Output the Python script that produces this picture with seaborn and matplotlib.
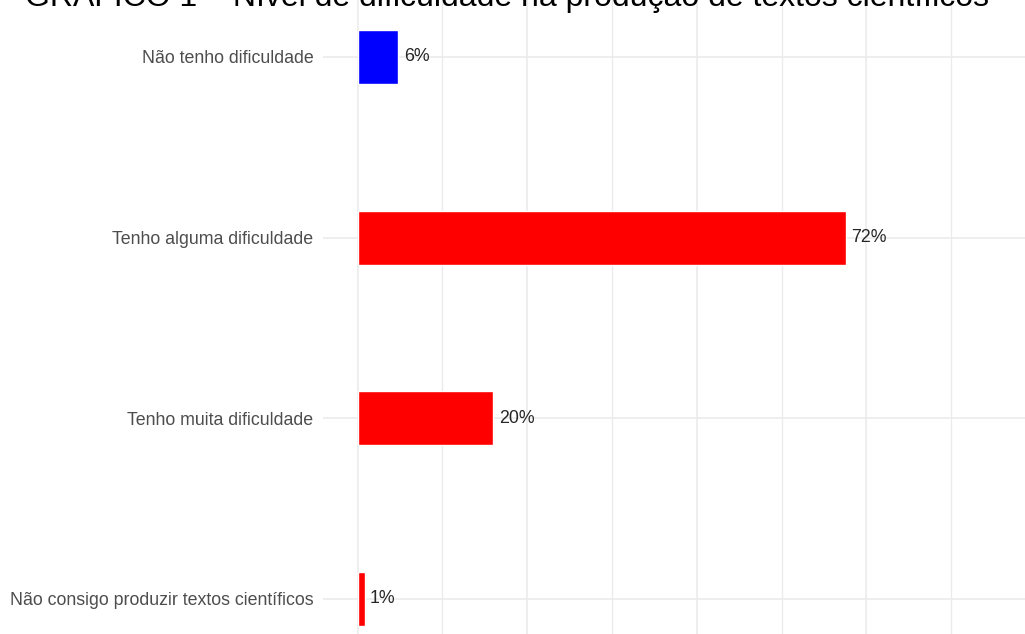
import numpy as np
import pandas as pd
import matplotlib
matplotlib.use('Agg')
import matplotlib.pyplot as plt
import seaborn as sns

# data
categorias = ['Não tenho dificuldade', 'Tenho alguma dificuldade',
              'Tenho muita dificuldade', 'Não consigo produzir textos científicos']
percentuais = [6, 72, 20, 1]
rotulos = ['6%', '72%', '20%', '1%']
cores = {'Não tenho dificuldade': '#0000FF',
         'Tenho alguma dificuldade': '#FF0000',
         'Tenho muita dificuldade': '#FF0000',
         'Não consigo produzir textos científicos': '#FF0000'}
titulo = 'GRÁFICO 1 – Nível de dificuldade na produção de textos científicos'

df = pd.DataFrame({'categoria': categorias, 'pct': percentuais})

sns.set_theme(style='white')
plt.rcParams['font.family'] = ['Liberation Sans', 'DejaVu Sans']

W, H = 1025, 634
fig = plt.figure(figsize=(W / 100, H / 100), dpi=100)
# panel starts at x=323px, fills the rest (reference is a crop of a bigger chart)
ax = fig.add_axes([323 / W, 0, 1 - 323 / W, 1])

sns.barplot(data=df, x='pct', y='categoria', hue='categoria', palette=cores,
            order=categorias, width=0.3, orient='h', legend=False, ax=ax,
            saturation=1)

# grid like theme_minimal: majors every 25, minors in between
ax.set_axisbelow(True)
for v in np.arange(0, 100, 12.5):
    ax.axvline(v, color='#ebebeb', lw=1.2 if v % 25 == 0 else 1.0, zorder=0)
for i in range(len(categorias)):
    ax.axhline(i, color='#ebebeb', lw=1.2, zorder=0)

ax.set_xlim(-5.12, 98.4)
ax.set_ylim(3.194, -0.3155)

for c, lab in zip(ax.containers, [[r] for r in rotulos]):
    ax.bar_label(c, labels=lab, padding=4, fontsize=12.8, color='#262626')

ax.set_xlabel('')
ax.set_ylabel('')
ax.set_xticks([])
ax.tick_params(axis='y', length=0, pad=7, labelsize=12.8, labelcolor='#4d4d4d')
for s in ax.spines.values():
    s.set_visible(False)

fig.text(0.495, 1 - 6 / H, titulo, ha='center', va='baseline', fontsize=23,
         color='black')

fig.savefig('out.png', dpi=100)
